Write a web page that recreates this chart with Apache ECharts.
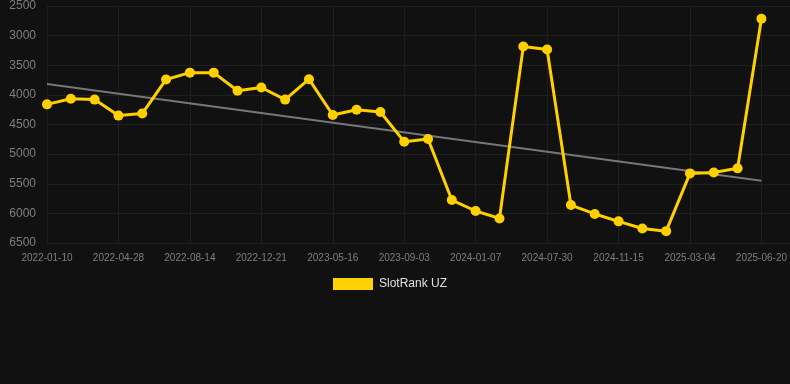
<!DOCTYPE html>
<html>
<head>
<meta charset="utf-8">
<script src="https://cdn.jsdelivr.net/npm/echarts@6/dist/echarts.min.js"></script>
<style>
html,body{margin:0;padding:0;background:#111111;}
#chart{width:790px;height:384px;}
</style>
</head>
<body>
<div id="chart"></div>
<script>
const categories = [
  "2022-01-10","2022-02-15","2022-03-23","2022-04-28","2022-06-03","2022-07-09",
  "2022-08-14","2022-09-26","2022-11-08","2022-12-21","2023-02-08","2023-03-29",
  "2023-05-16","2023-06-21","2023-07-28","2023-09-03","2023-10-15","2023-11-26",
  "2024-01-07","2024-03-16","2024-05-23","2024-07-30","2024-09-06","2024-10-11",
  "2024-11-15","2024-12-21","2025-01-27","2025-03-04","2025-04-09","2025-05-15",
  "2025-06-20"
];
const slotRankUZ = [
  4160, 4065, 4080, 4350, 4315, 3740, 3625, 3625, 3930, 3875, 4080,
  3735, 4340, 4250, 4290, 4790, 4745, 5775, 5960, 6085, 3185, 3235,
  5860, 6010, 6135, 6255, 6300, 5325, 5310, 5240, 2715
];
const trendEnds = [3815, 5450];
const yTicks = { min: 2500, max: 6500, step: 500 };
const seriesName = "SlotRank UZ";

const trendData = categories.map((c, i) =>
  i === 0 ? trendEnds[0] : (i === categories.length - 1 ? trendEnds[1] : null));

const gridColor = "#1f1f1f";
const labelColor = "#7f7f7f";

const chart = echarts.init(document.getElementById("chart"), null, { renderer: "canvas" });
chart.setOption({
  backgroundColor: "#111111",
  animation: false,
  textStyle: { fontFamily: "Liberation Sans, Arial, sans-serif" },
  legend: {
    data: [seriesName],
    top: 278,
    left: 333,
    padding: 0,
    icon: "rect",
    itemWidth: 40,
    itemHeight: 12,
    itemGap: 10,
    textStyle: { color: "#e0e0e0", fontSize: 12, padding: [0, 0, 0, 1] }
  },
  grid: [
    { left: 47, right: 28, top: 6, bottom: 141, containLabel: false },
    { left: 47, right: 0, top: 6, bottom: 141, containLabel: false }
  ],
  xAxis: [
    {
      gridIndex: 0,
      type: "category",
      data: categories,
      boundaryGap: false,
      axisLine: { show: true, lineStyle: { color: gridColor } },
      axisTick: { show: false },
      axisLabel: { color: labelColor, fontSize: 10, interval: 2, margin: 10 },
      splitLine: { show: true, interval: 2, lineStyle: { color: gridColor, width: 1 } }
    },
    { gridIndex: 1, type: "value", min: 0, max: 1, show: false }
  ],
  yAxis: [
    {
      gridIndex: 0,
      type: "value",
      inverse: true,
      min: yTicks.min,
      max: yTicks.max,
      interval: yTicks.step,
      axisLine: { show: false },
      axisTick: { show: false },
      axisLabel: { color: labelColor, fontSize: 12, margin: 11, formatter: v => String(v) },
      splitLine: { show: false }
    },
    {
      gridIndex: 1,
      type: "value",
      inverse: true,
      min: yTicks.min,
      max: yTicks.max,
      interval: yTicks.step,
      axisLine: { show: false },
      axisTick: { show: false },
      axisLabel: { show: false },
      splitLine: { show: true, lineStyle: { color: gridColor, width: 1 } },
      z: 0
    }
  ],
  series: [
    {
      name: "trend",
      type: "line",
      xAxisIndex: 0,
      yAxisIndex: 0,
      data: trendData,
      connectNulls: true,
      symbol: "none",
      lineStyle: { color: "#777777", width: 2 },
      itemStyle: { color: "#777777" },
      silent: true,
      z: 2
    },
    {
      name: seriesName,
      type: "line",
      xAxisIndex: 0,
      yAxisIndex: 0,
      data: slotRankUZ,
      symbol: "circle",
      symbolSize: 10,
      showSymbol: true,
      lineStyle: { color: "#FFD000", width: 3 },
      itemStyle: { color: "#FFD000" },
      z: 3
    }
  ]
});
</script>
</body>
</html>
